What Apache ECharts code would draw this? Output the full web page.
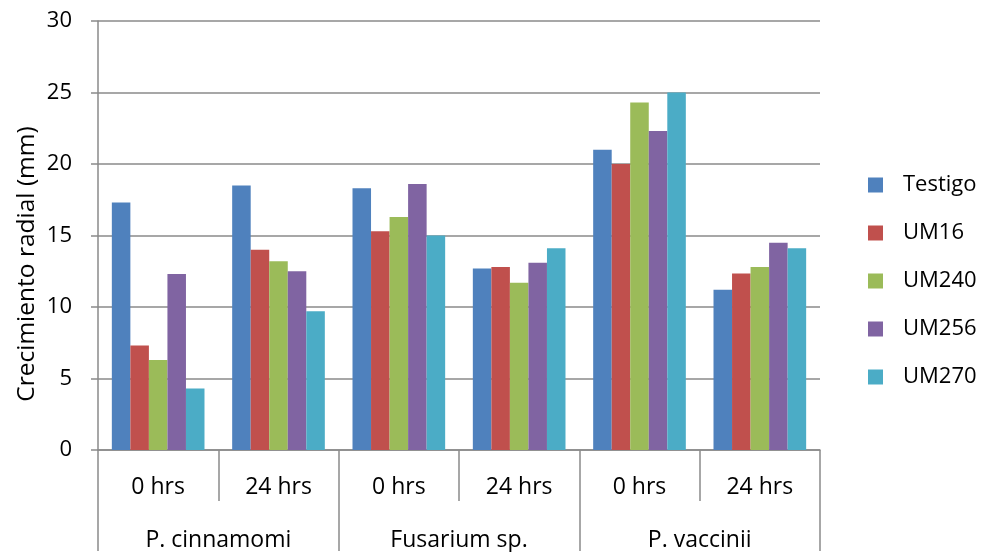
<!DOCTYPE html>
<html>
<head>
<meta charset="utf-8">
<script src="https://cdn.jsdelivr.net/npm/echarts@6/dist/echarts.min.js"></script>
<style>
  html, body { margin: 0; padding: 0; background: #fff; }
  #chart { width: 986px; height: 552px; }
</style>
</head>
<body>
<div id="chart"></div>
<script>
// Sampling times (inner axis level) and organisms (outer axis level)
const times = ['0 hrs', '24 hrs', '0 hrs', '24 hrs', '0 hrs', '24 hrs'];
const organisms = ['P. cinnamomi', 'Fusarium sp.', 'P. vaccinii'];
const yTicks = [0, 5, 10, 15, 20, 25, 30];

// Radial growth (mm) per treatment
const testigo = [17.3, 18.5, 18.3, 12.7, 21.0, 11.2];
const um16    = [7.3, 14.0, 15.3, 12.8, 20.0, 12.35];
const um240   = [6.3, 13.2, 16.3, 11.7, 24.3, 12.8];
const um256   = [12.3, 12.5, 18.6, 13.1, 22.3, 14.5];
const um270   = [4.3, 9.7, 15.0, 14.1, 25.0, 14.1];

const seriesNames = ['Testigo', 'UM16', 'UM240', 'UM256', 'UM270'];
const seriesData = [testigo, um16, um240, um256, um270];
const colors = ['#4F81BD', '#C0504D', '#9BBB59', '#8064A2', '#4BACC6'];

const FONT = 'Open Sans';
const AXIS_GRAY = '#8a8a8a';

const chart = echarts.init(document.getElementById('chart'), null, { renderer: 'canvas' });

chart.setOption({
  animation: false,
  backgroundColor: '#ffffff',
  color: colors,
  textStyle: { fontFamily: FONT, color: '#000' },
  grid: { left: 98, right: 166, top: 21, bottom: 101, containLabel: false },
  legend: {
    orient: 'vertical',
    left: 863,
    top: 169,
    itemWidth: 15,
    itemHeight: 15,
    itemGap: 26,
    icon: 'rect',
    data: seriesNames,
    textStyle: { fontFamily: FONT, fontSize: 22, color: '#000', lineHeight: 22, padding: [0, 0, 0, 15] }
  },
  xAxis: [
    {
      type: 'category',
      data: times,
      position: 'bottom',
      axisLine: { show: true, lineStyle: { color: AXIS_GRAY, width: 1.5 } },
      axisTick: { show: true, interval: 0, length: 51, lineStyle: { color: AXIS_GRAY, width: 1.5 } },
      axisLabel: { interval: 0, margin: 26, fontFamily: FONT, fontSize: 23, color: '#000' },
      splitLine: { show: false }
    },
    {
      type: 'category',
      data: organisms,
      position: 'bottom',
      axisLine: { show: false },
      axisTick: { show: true, interval: 0, length: 101, lineStyle: { color: AXIS_GRAY, width: 1.5 } },
      axisLabel: { interval: 0, margin: 79, fontFamily: FONT, fontSize: 23, color: '#000' },
      splitLine: { show: false }
    }
  ],
  yAxis: {
    type: 'value',
    min: yTicks[0],
    max: yTicks[yTicks.length - 1],
    interval: yTicks[1] - yTicks[0],
    axisLine: { show: true, lineStyle: { color: AXIS_GRAY, width: 1.5 } },
    axisTick: { show: true, length: 7, lineStyle: { color: AXIS_GRAY, width: 1.5 } },
    axisLabel: { margin: 26, fontFamily: FONT, fontSize: 22, color: '#000' },
    splitLine: { show: true, lineStyle: { color: AXIS_GRAY, width: 1.5 } }
  },
  graphic: [
    {
      type: 'text',
      x: 27,
      y: 264,
      rotation: Math.PI / 2,
      style: {
        text: 'Crecimiento radial (mm)',
        fontFamily: FONT,
        fontSize: 24.5,
        fill: '#000',
        textAlign: 'center',
        textVerticalAlign: 'middle'
      }
    }
  ],
  series: seriesNames.map((name, i) => ({
    name: name,
    type: 'bar',
    xAxisIndex: 0,
    data: seriesData[i],
    barGap: '0%',
    barCategoryGap: '23%',
    itemStyle: { color: colors[i] }
  }))
});
</script>
</body>
</html>
